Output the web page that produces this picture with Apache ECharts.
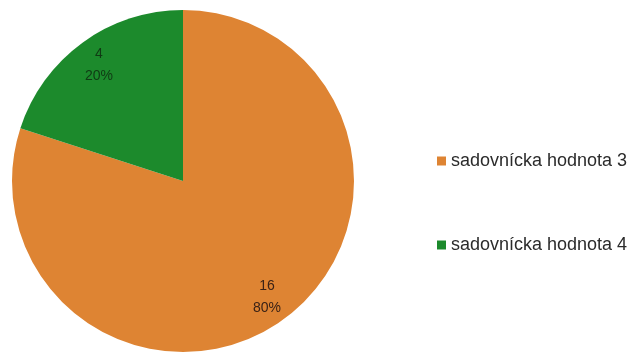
<!DOCTYPE html>
<html>
<head>
<meta charset="utf-8">
<script src="https://cdn.jsdelivr.net/npm/echarts@6/dist/echarts.min.js"></script>
<style>
  html, body { margin: 0; padding: 0; background: #fff; }
  #chart { width: 631px; height: 352px; }
</style>
</head>
<body>
<div id="chart"></div>
<script>
const categories = ["sadovnícka hodnota 3", "sadovnícka hodnota 4"]
const values = [16, 4]
const colors = ["#DE8433", "#1C8A2C"]
const labelColors = ["#3a2216", "#103a14"]

const chart = echarts.init(document.getElementById("chart"))

const pieData = categories.map((name, i) => ({
  name,
  value: values[i],
  itemStyle: { color: colors[i] },
}))

chart.setOption({
  animation: false,
  legend: {
    orient: "vertical",
    left: 432,
    top: 147,
    itemWidth: 9,
    itemHeight: 9,
    itemGap: 66,
    icon: "rect",
    textStyle: { fontFamily: "Liberation Sans", fontSize: 18, color: "#2b2b2b" },
    data: categories,
  },
  series: [
    {
      type: "pie",
      center: [183, 181],
      radius: [0, 171],
      startAngle: 90,
      clockwise: true,
      label: { show: false },
      labelLine: { show: false },
      data: pieData,
    },
    {
      // transparent ring only to push the labels out towards the rim
      type: "pie",
      center: [183, 181],
      radius: [0, 280],
      startAngle: 90,
      silent: true,
      legendHoverLink: false,
      label: {
        show: true,
        position: "inside",
        formatter: "{c}\n{d}%",
        fontFamily: "Liberation Sans",
        fontSize: 14,
        lineHeight: 22,
      },
      itemStyle: { color: "rgba(0,0,0,0)" },
      data: categories.map((name, i) => ({
        name: name + " ",
        value: values[i],
        label: { color: labelColors[i] },
      })),
    },
  ],
})
</script>
</body>
</html>
